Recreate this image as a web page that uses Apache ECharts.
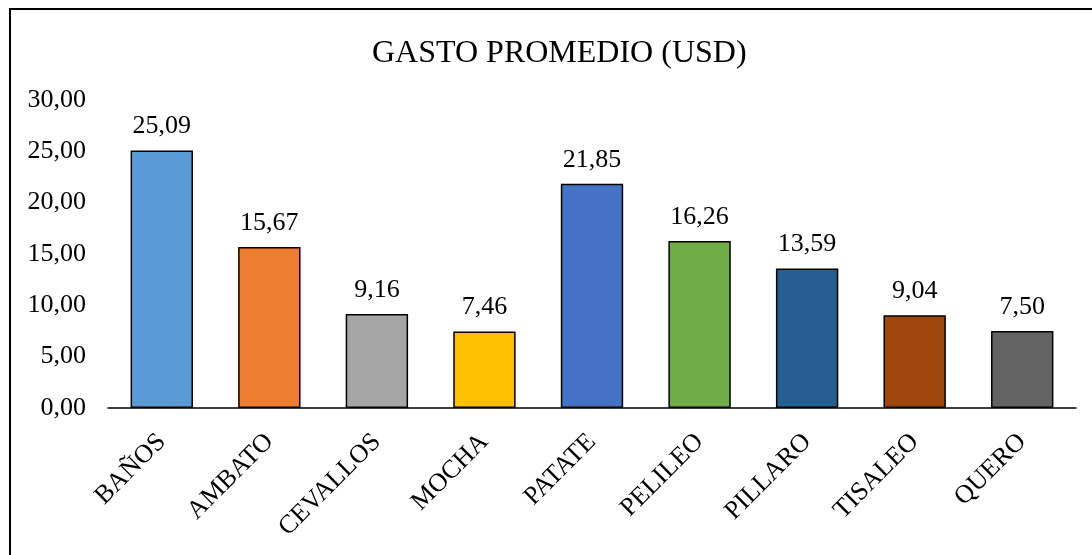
<!DOCTYPE html>
<html>
<head>
<meta charset="utf-8">
<script src="https://cdn.jsdelivr.net/npm/echarts@6/dist/echarts.min.js"></script>
<style>
  html, body { margin: 0; padding: 0; background: #fff; }
  #chart { width: 1092px; height: 555px; }
</style>
</head>
<body>
<div id="chart"></div>
<script>
const categories = ['BAÑOS', 'AMBATO', 'CEVALLOS', 'MOCHA', 'PATATE', 'PELILEO', 'PILLARO', 'TISALEO', 'QUERO'];
const gastoPromedio = [25.09, 15.67, 9.16, 7.46, 21.85, 16.26, 13.59, 9.04, 7.50];
const barColors = ['#5B9BD5', '#ED7D31', '#A5A5A5', '#FFC000', '#4472C4', '#70AD47', '#255E91', '#9E480E', '#636363'];

const serif = '"Liberation Serif", "DejaVu Serif", serif';
const fmt = (v) => Number(v).toFixed(2).replace('.', ',');

const chart = echarts.init(document.getElementById('chart'));
chart.setOption({
  animation: false,
  textStyle: { fontFamily: serif, color: '#000' },
  title: {
    text: 'GASTO PROMEDIO (USD)',
    left: 367,
    top: 33,
    textStyle: { fontFamily: serif, fontSize: 32, fontWeight: 'normal', color: '#000' }
  },
  graphic: [
    {
      type: 'rect',
      shape: { x: 10, y: 9, width: 1200, height: 700 },
      style: { fill: 'none', stroke: '#000', lineWidth: 2 },
      silent: true
    }
  ],
  grid: { left: 108, right: 16, top: 100, bottom: 147 },
  xAxis: {
    type: 'category',
    data: categories,
    axisLine: { lineStyle: { color: '#000', width: 1.5 } },
    axisTick: { show: false },
    axisLabel: {
      rotate: 45,
      interval: 0,
      margin: 30,
      color: '#000',
      fontFamily: serif,
      fontSize: 26
    }
  },
  yAxis: {
    type: 'value',
    min: 0,
    max: 30,
    interval: 5,
    axisLine: { show: false },
    axisTick: { show: false },
    splitLine: { show: false },
    axisLabel: {
      margin: 22,
      color: '#000',
      fontFamily: serif,
      fontSize: 26,
      formatter: fmt
    }
  },
  series: [
    {
      type: 'bar',
      barCategoryGap: '42%',
      data: gastoPromedio.map((v, i) => ({
        value: v,
        itemStyle: { color: barColors[i], borderColor: '#000', borderWidth: 1.5 }
      })),
      label: {
        show: true,
        position: 'top',
        distance: 11,
        color: '#000',
        fontFamily: serif,
        fontSize: 26,
        formatter: (p) => fmt(p.value)
      }
    }
  ]
});
</script>
</body>
</html>
